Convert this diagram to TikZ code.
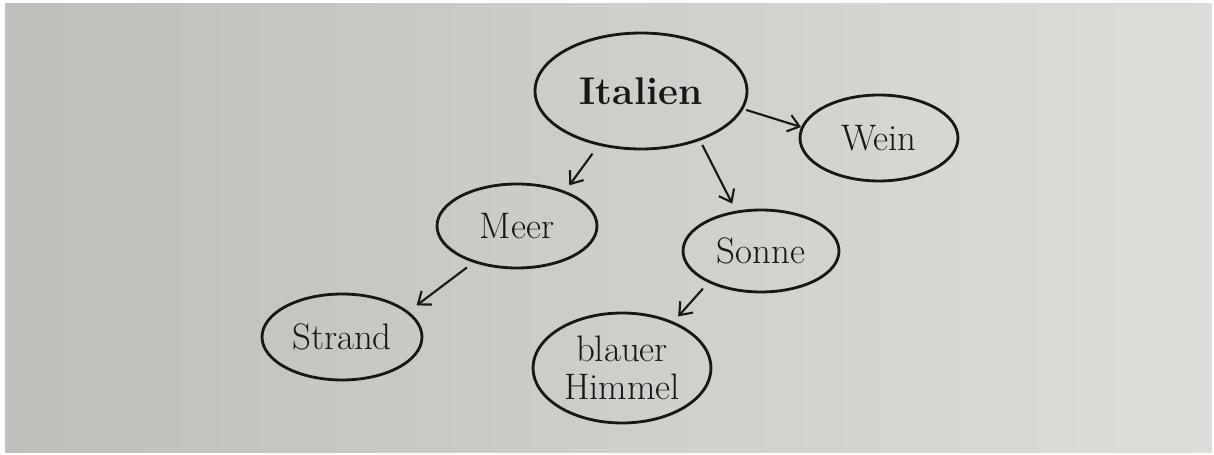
\documentclass[tikz,border=0pt]{standalone}
\usetikzlibrary{shapes.geometric,arrows.meta}
\definecolor{ink}{RGB}{24,23,22}
\definecolor{paperl}{RGB}{192,190,187}
\definecolor{paperr}{RGB}{222,221,217}
\begin{document}
\begin{tikzpicture}[x=0.02cm,y=-0.02cm]
            \tikzstyle{every node}=[ellipse, draw=ink, line width=1.6pt, inner sep=0pt, text=ink, align=center, font=\fontsize{21}{21.5}\selectfont]
            \tikzstyle{edge}=[ink, line width=1.2pt, -{Straight Barb[length=2.2mm,width=3.4mm]}]

            % photographed page
            \fill[white] (0,0) rectangle (1214,455);
            \shade[left color=paperl, right color=paperr] (5,4) rectangle (1212,453);

            \node[minimum width=4.24cm, minimum height=2.32cm, font=\fontsize{22}{23}\selectfont\bfseries] (i) at (641,91) {Italien};
            \node[minimum width=3.16cm, minimum height=1.72cm] (w) at (879,138) {Wein};
            \node[minimum width=3.2cm, minimum height=1.68cm] (m) at (517,226) {Meer};
            \node[minimum width=3.12cm, minimum height=1.64cm] (s) at (761,251) {Sonne};
            \node[minimum width=3.2cm, minimum height=1.72cm] (st) at (342,337) {Strand};
            \node[minimum width=3.56cm, minimum height=2.2cm] (h) at (622,368) {blauer\\Himmel};

            \draw[edge, shorten <=0.06cm] (i.-10) -- (w.172);
            \draw[edge, shorten <=0.2cm, shorten >=0.14cm] (i.232) -- (m.36);
            \draw[edge, shorten <=0.1cm, shorten >=0.16cm] (i.-40) -- (s.122);
            \draw[edge, shorten <=0.16cm, shorten >=0.2cm] (m.220) -- (st.21);
            \draw[edge, shorten <=0.16cm, shorten >=0.14cm] (s.211) -- (h.42);
        \end{tikzpicture}
\end{document}
